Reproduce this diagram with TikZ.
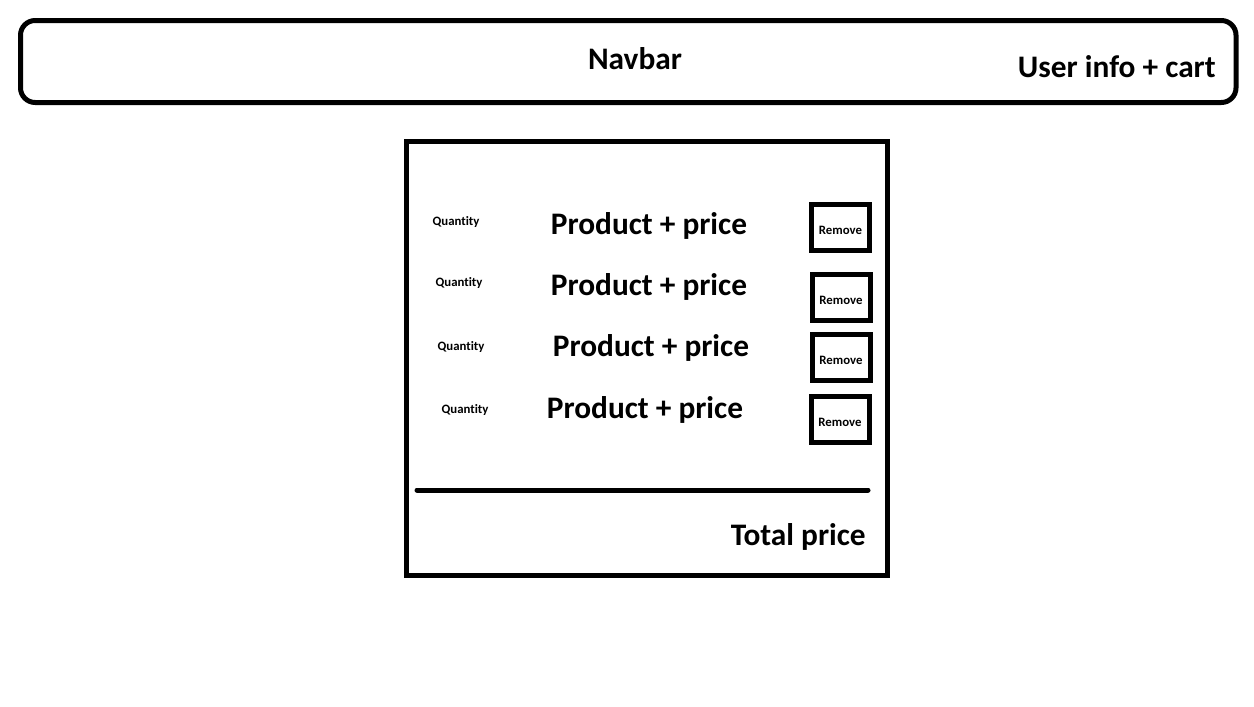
\documentclass[tikz,border=0pt]{standalone}
\usepackage{fontspec}
\setmainfont{Carlito}[Ligatures=NoCommon]
\begin{document}
\begin{tikzpicture}[x=0.75pt,y=-0.75pt,
  frame/.style={draw=black,line width=3.75pt},
  big/.style={font=\bfseries\fontsize{23.5}{26}\selectfont,inner sep=0pt},
  small/.style={font=\bfseries\fontsize{9.6}{11}\selectfont,inner sep=0pt},
  rmbox/.style={draw=black,line width=3.75pt,minimum width=43.5pt,minimum height=34.5pt,inner sep=0pt}]
\useasboundingbox (0,0) rectangle (1254,707);
\fill[white] (0,0) rectangle (1254,707);
% navbar
\draw[frame,rounded corners=11pt] (20.5,20.5) rectangle (1236,102.5);
\node[big] (navbar) at (635,59) {Navbar};
\node[big,anchor=east] (user) at (1216,67) {User info + cart};
% cart panel
\node[frame,inner sep=0pt,minimum width=360.75pt,minimum height=325.5pt] (panel) at (646.5,358) {};
\foreach \i/\qx/\qy/\px/\py/\rx/\ry in {1/456/222.5/649/226/840.5/227.5, 2/459/283.5/649/287/841/297.5, 3/461/347.5/651/348/841/357.5, 4/465/410.5/645/410/840/419.5}{
  \node[small] (q\i) at (\qx,\qy) {Quantity};
  \node[big] (p\i) at (\px,\py) {Product + price};
  \node[rmbox] (r\i) at (\rx,\ry) {};
  \node[small] (t\i) at ([yshift=-2.5pt]r\i.center) {Remove};
}
\coordinate (l1) at (417,490);
\coordinate (l2) at (868,490);
\draw[line width=3.75pt,line cap=round] (l1) -- (l2);
\node[big,anchor=east] (total) at (866,537) {Total price};
\end{tikzpicture}
\end{document}
